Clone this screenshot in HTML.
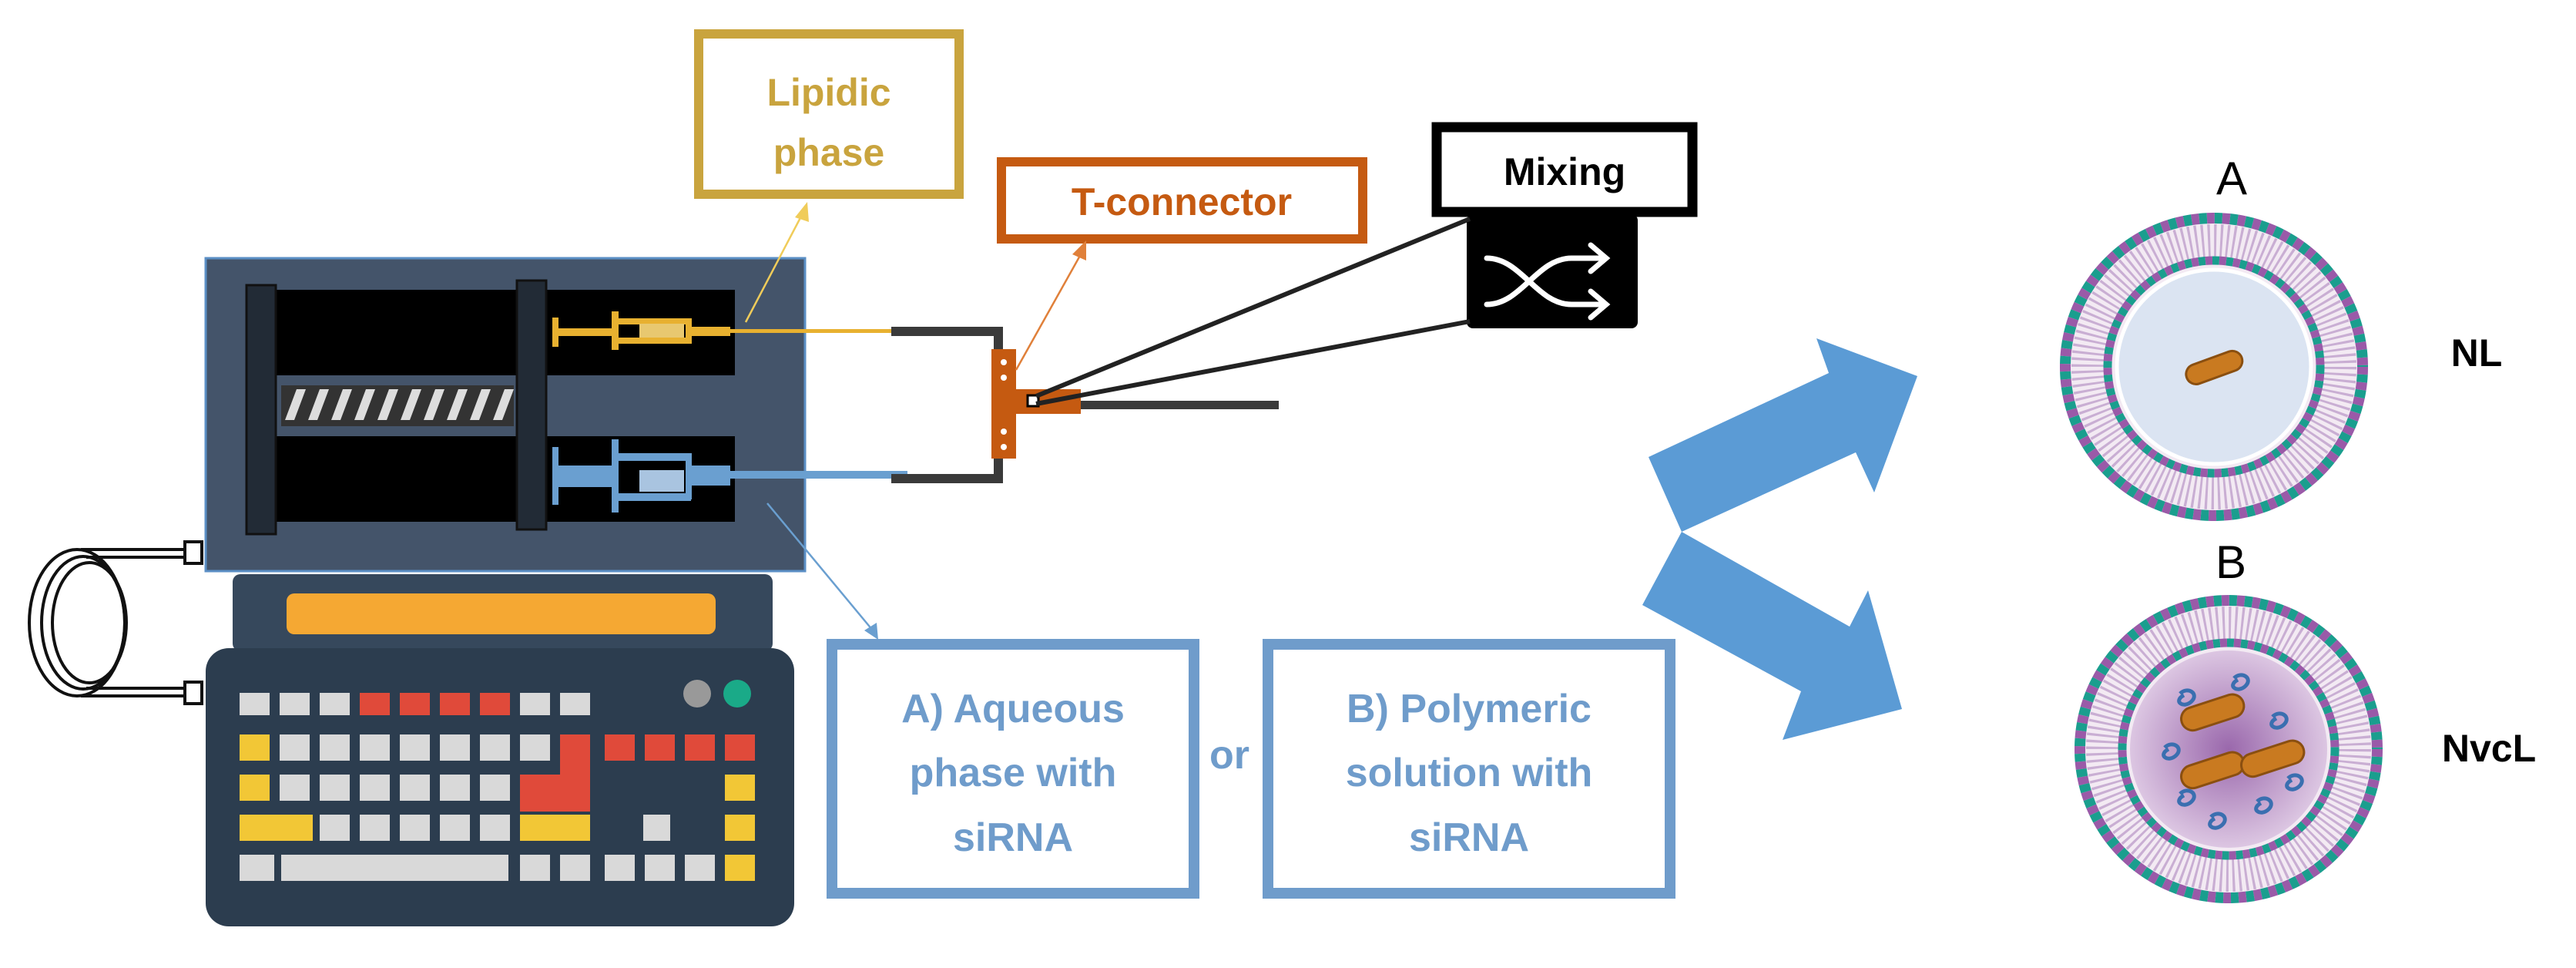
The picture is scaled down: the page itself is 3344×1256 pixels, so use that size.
<!DOCTYPE html>
<html><head><meta charset="utf-8"><style>
html,body{margin:0;padding:0;background:#fff;}
svg{display:block;}
text{font-family:"Liberation Sans",sans-serif;font-weight:bold;}
</style></head><body>
<svg width="3344" height="1256" viewBox="0 0 3344 1256" xmlns="http://www.w3.org/2000/svg">
<defs><radialGradient id="pg"><stop offset="0" stop-color="#9a68ac"/><stop offset="1" stop-color="#dcc6e2"/></radialGradient></defs>
<!-- Lipidic phase box -->
<rect x="907" y="44" width="338" height="208" fill="#fff" stroke="#c9a43e" stroke-width="12"/>
<text x="1076" y="137" font-size="50" fill="#c9a43e" text-anchor="middle">Lipidic</text>
<text x="1076" y="215" font-size="50" fill="#c9a43e" text-anchor="middle">phase</text>
<!-- T-connector box -->
<rect x="1300" y="210" width="469" height="100" fill="#fff" stroke="#c55a11" stroke-width="12"/>
<text x="1534" y="279" font-size="50" fill="#c55a11" text-anchor="middle">T-connector</text>
<!-- Mixing box -->
<rect x="1865" y="165" width="332" height="110" fill="#fff" stroke="#000" stroke-width="13"/>
<text x="2031" y="240" font-size="50" fill="#000" text-anchor="middle">Mixing</text>
<rect x="1904" y="278" width="222" height="148" rx="8" fill="#000"/>
<g stroke="#fff" stroke-width="7" fill="none" stroke-linecap="round">
<path d="M1930 335 C1975 335 1995 395 2040 395 L2080 395"/>
<path d="M1930 395 C1975 395 1995 335 2040 335 L2080 335"/>
<path d="M2065 318 L2085 335 L2065 352"/>
<path d="M2065 378 L2085 395 L2065 412"/>
</g>
<!-- machine panel -->
<rect x="267" y="335" width="778" height="406" fill="#44546a" stroke="#5b8fc5" stroke-width="3"/>
<rect x="358" y="376" width="596" height="111" fill="#000"/>
<rect x="358" y="566" width="596" height="111" fill="#000"/>
<rect x="320" y="370" width="38" height="323" fill="#222b36" stroke="#111" stroke-width="3"/>
<rect x="671" y="364" width="38" height="323" fill="#222b36" stroke="#111" stroke-width="3"/>
<rect x="365" y="500" width="302" height="53" fill="#333"/>
<g fill="#ddd"><path d="M370 545 l15 -40 h12 l-15 40z M400 545 l15 -40 h12 l-15 40z M430 545 l15 -40 h12 l-15 40z M460 545 l15 -40 h12 l-15 40z M490 545 l15 -40 h12 l-15 40z M520 545 l15 -40 h12 l-15 40z M550 545 l15 -40 h12 l-15 40z M580 545 l15 -40 h12 l-15 40z M610 545 l15 -40 h12 l-15 40z M640 545 l15 -40 h12 l-15 40z"/></g>
<!-- yellow syringe -->
<g fill="#e8b130">
<rect x="717" y="412" width="8" height="38"/>
<rect x="720" y="426" width="80" height="10"/>
<rect x="794" y="404" width="9" height="50"/>
<rect x="800" y="413" width="97" height="8"/>
<rect x="800" y="438" width="97" height="8"/>
<rect x="890" y="413" width="8" height="33"/>
<rect x="898" y="424" width="50" height="12"/>
<rect x="948" y="427" width="215" height="5"/>
</g>
<rect x="830" y="420" width="58" height="18" fill="#e8c870"/>
<!-- blue syringe -->
<g fill="#6a9fd0">
<rect x="717" y="580" width="8" height="75"/>
<rect x="720" y="604" width="80" height="28"/>
<rect x="794" y="570" width="9" height="95"/>
<rect x="800" y="588" width="97" height="10"/>
<rect x="800" y="640" width="97" height="10"/>
<rect x="890" y="588" width="8" height="60"/>
<rect x="898" y="604" width="50" height="26"/>
<rect x="948" y="611" width="230" height="10"/>
</g>
<rect x="830" y="610" width="58" height="28" fill="#a9c4e0"/>
<!-- tubes -->
<path d="M1157 430 H1296 V460" stroke="#3a3a3a" stroke-width="12" fill="none"/>
<path d="M1157 621 H1296 V590" stroke="#3a3a3a" stroke-width="12" fill="none"/>
<rect x="1403" y="520" width="257" height="11" fill="#3a3a3a"/>
<!-- T connector -->
<rect x="1287" y="453" width="32" height="142" fill="#c55a11"/>
<rect x="1315" y="505" width="88" height="32" fill="#c55a11"/>
<g fill="#fff"><circle cx="1303" cy="470" r="4"/><circle cx="1303" cy="490" r="4"/><circle cx="1303" cy="560" r="4"/><circle cx="1303" cy="580" r="4"/></g>
<rect x="1334" y="513" width="14" height="14" fill="#fff" stroke="#000" stroke-width="3"/>
<line x1="1345" y1="514" x2="1908" y2="284" stroke="#222" stroke-width="6"/>
<line x1="1345" y1="524" x2="1908" y2="417" stroke="#222" stroke-width="6"/>
<!-- thin arrows -->
<g stroke-width="2.5" fill="none">
<line x1="968" y1="418" x2="1043" y2="275" stroke="#f0cc5a"/>
<line x1="1319" y1="480" x2="1403" y2="330" stroke="#e0803a"/>
<line x1="996" y1="653" x2="1133" y2="818" stroke="#6a9fd0"/>
</g>
<path d="M1032 282 L1048 262 L1050 288z" fill="#f0cc5a"/>
<path d="M1392 330 L1410 312 L1410 338z" fill="#e0803a"/>
<path d="M1122 818 L1140 830 L1138 808z" fill="#6a9fd0"/>
<!-- coil -->
<g fill="none" stroke="#111" stroke-width="4">
<ellipse cx="100" cy="808" rx="62" ry="95"/>
<ellipse cx="108" cy="808" rx="54" ry="86"/>
<ellipse cx="116" cy="808" rx="48" ry="78"/>
<path d="M105 713 H252 M112 723 H252 M105 903 H252 M112 893 H252"/>
</g>
<rect x="240" y="703" width="22" height="28" fill="#fff" stroke="#111" stroke-width="4"/>
<rect x="240" y="885" width="22" height="28" fill="#fff" stroke="#111" stroke-width="4"/>
<!-- screen base -->
<rect x="302" y="745" width="701" height="100" rx="10" fill="#36485c"/>
<rect x="372" y="770" width="557" height="53" rx="10" fill="#f5a833"/>
<!-- keyboard -->
<rect x="267" y="841" width="764" height="361" rx="30" fill="#2c3d4f"/>
<g>
<g fill="#d9d9d9"><rect x="311" y="899" width="39" height="29"/><rect x="363" y="899" width="39" height="29"/><rect x="415" y="899" width="39" height="29"/><rect x="675" y="899" width="39" height="29"/><rect x="727" y="899" width="39" height="29"/></g>
<g fill="#e04a3a"><rect x="467" y="899" width="39" height="29"/><rect x="519" y="899" width="39" height="29"/><rect x="571" y="899" width="39" height="29"/><rect x="623" y="899" width="39" height="29"/></g>
<circle cx="905" cy="900" r="18" fill="#999"/><circle cx="957" cy="900" r="18" fill="#1aaa88"/>
<rect x="311" y="953" width="39" height="34" fill="#f2c736"/>
<g fill="#d9d9d9"><rect x="363" y="953" width="39" height="34"/><rect x="415" y="953" width="39" height="34"/><rect x="467" y="953" width="39" height="34"/><rect x="519" y="953" width="39" height="34"/><rect x="571" y="953" width="39" height="34"/><rect x="623" y="953" width="39" height="34"/><rect x="675" y="953" width="39" height="34"/></g>
<g fill="#e04a3a"><rect x="727" y="953" width="39" height="100"/><rect x="675" y="1005" width="91" height="48"/><rect x="785" y="953" width="39" height="34"/><rect x="837" y="953" width="39" height="34"/><rect x="889" y="953" width="39" height="34"/><rect x="941" y="953" width="39" height="34"/></g>
<rect x="311" y="1005" width="39" height="34" fill="#f2c736"/>
<g fill="#d9d9d9"><rect x="363" y="1005" width="39" height="34"/><rect x="415" y="1005" width="39" height="34"/><rect x="467" y="1005" width="39" height="34"/><rect x="519" y="1005" width="39" height="34"/><rect x="571" y="1005" width="39" height="34"/><rect x="623" y="1005" width="39" height="34"/></g>
<rect x="941" y="1005" width="39" height="34" fill="#f2c736"/>
<rect x="311" y="1057" width="95" height="34" fill="#f2c736"/>
<g fill="#d9d9d9"><rect x="415" y="1057" width="39" height="34"/><rect x="467" y="1057" width="39" height="34"/><rect x="519" y="1057" width="39" height="34"/><rect x="571" y="1057" width="39" height="34"/><rect x="623" y="1057" width="39" height="34"/><rect x="835" y="1057" width="35" height="34"/></g>
<rect x="675" y="1057" width="91" height="34" fill="#f2c736"/>
<rect x="941" y="1057" width="39" height="34" fill="#f2c736"/>
<g fill="#d9d9d9"><rect x="311" y="1109" width="45" height="34"/><rect x="365" y="1109" width="295" height="34"/><rect x="675" y="1109" width="39" height="34"/><rect x="727" y="1109" width="39" height="34"/><rect x="785" y="1109" width="39" height="34"/><rect x="837" y="1109" width="39" height="34"/><rect x="889" y="1109" width="39" height="34"/></g>
<rect x="941" y="1109" width="39" height="34" fill="#f2c736"/>
</g>
<!-- boxes A/B -->
<rect x="1080" y="836" width="470" height="323" fill="#fff" stroke="#6f9ccb" stroke-width="14"/>
<rect x="1646" y="836" width="522" height="323" fill="#fff" stroke="#6f9ccb" stroke-width="14"/>
<g font-size="52" fill="#6f9ccb" text-anchor="middle">
<text x="1315" y="937">A) Aqueous</text>
<text x="1315" y="1020">phase with</text>
<text x="1315" y="1104">siRNA</text>
<text x="1596" y="997">or</text>
<text x="1907" y="937">B) Polymeric</text>
<text x="1907" y="1020">solution  with</text>
<text x="1907" y="1104">siRNA</text>
</g>
<!-- big arrows -->
<path d="M2140 593 L2183 690 L2409 587 L2433 639 L2489 488 L2358 439 L2374 484 Z" fill="#5b9bd5"/>
<path d="M2183 690 L2132 785 L2338 897 L2314 960 L2469 920 L2425 766 L2401 813 Z" fill="#5b9bd5"/>
<!-- liposome A -->
<text x="2897" y="252" font-size="60" style="font-weight:normal" fill="#000" text-anchor="middle">A</text>
<circle cx="2874" cy="476" r="200" fill="#f3eaf3"/>
<circle cx="2874" cy="476" r="193" fill="none" stroke="#9a5aa8" stroke-width="14" stroke-dasharray="10 10"/>
<circle cx="2874" cy="476" r="193" fill="none" stroke="#1a9e8e" stroke-width="14" stroke-dasharray="10 10" stroke-dashoffset="10"/>
<circle cx="2874" cy="476" r="163" fill="none" stroke="#c9aed3" stroke-width="44" stroke-dasharray="3 5"/>
<circle cx="2874" cy="476" r="138" fill="none" stroke="#1a9e8e" stroke-width="11" stroke-dasharray="9 9"/>
<circle cx="2874" cy="476" r="138" fill="none" stroke="#9a5aa8" stroke-width="11" stroke-dasharray="9 9" stroke-dashoffset="9"/>
<circle cx="2874" cy="476" r="126" fill="#dbe4f2" stroke="#fff" stroke-width="5"/>
<g transform="rotate(-20 2874 476)"><rect x="2836" y="464" width="76" height="26" rx="13" fill="#c97a20" stroke="#8a4f10" stroke-width="3"/></g>
<text x="3215" y="475" font-size="50" fill="#000" text-anchor="middle">NL</text>
<!-- liposome B -->
<text x="2896" y="750" font-size="60" style="font-weight:normal" fill="#000" text-anchor="middle">B</text>
<circle cx="2893" cy="972" r="200" fill="#f3eaf3"/>
<circle cx="2893" cy="972" r="193" fill="none" stroke="#9a5aa8" stroke-width="14" stroke-dasharray="10 10"/>
<circle cx="2893" cy="972" r="193" fill="none" stroke="#1a9e8e" stroke-width="14" stroke-dasharray="10 10" stroke-dashoffset="10"/>
<circle cx="2893" cy="972" r="163" fill="none" stroke="#c9aed3" stroke-width="44" stroke-dasharray="3 5"/>
<circle cx="2893" cy="972" r="138" fill="none" stroke="#1a9e8e" stroke-width="11" stroke-dasharray="9 9"/>
<circle cx="2893" cy="972" r="138" fill="none" stroke="#9a5aa8" stroke-width="11" stroke-dasharray="9 9" stroke-dashoffset="9"/>
<circle cx="2893" cy="972" r="128" fill="url(#pg)"/>
<g fill="none" stroke="#3a6fb0" stroke-width="5">
<path d="M2830 900 c10 -10 25 0 15 10 c-10 10 -25 0 -10 -8"/><path d="M2950 930 c10 -10 25 0 15 10 c-10 10 -25 0 -10 -8"/>
<path d="M2810 970 c10 -10 25 0 15 10 c-10 10 -25 0 -10 -8"/><path d="M2830 1030 c10 -10 25 0 15 10 c-10 10 -25 0 -10 -8"/>
<path d="M2970 1010 c10 -10 25 0 15 10 c-10 10 -25 0 -10 -8"/><path d="M2930 1040 c10 -10 25 0 15 10 c-10 10 -25 0 -10 -8"/>
<path d="M2870 1060 c10 -10 25 0 15 10 c-10 10 -25 0 -10 -8"/><path d="M2900 880 c10 -10 25 0 15 10 c-10 10 -25 0 -10 -8"/>
</g>
<g fill="#c97a20" stroke="#8a4f10" stroke-width="3">
<rect x="2830" y="910" width="84" height="30" rx="15" transform="rotate(-18 2870 924)"/>
<rect x="2830" y="985" width="84" height="30" rx="15" transform="rotate(-18 2870 999)"/>
<rect x="2908" y="970" width="84" height="30" rx="15" transform="rotate(-18 2948 984)"/>
</g>
<text x="3231" y="988" font-size="50" fill="#000" text-anchor="middle">NvcL</text>
</svg>
</body></html>
